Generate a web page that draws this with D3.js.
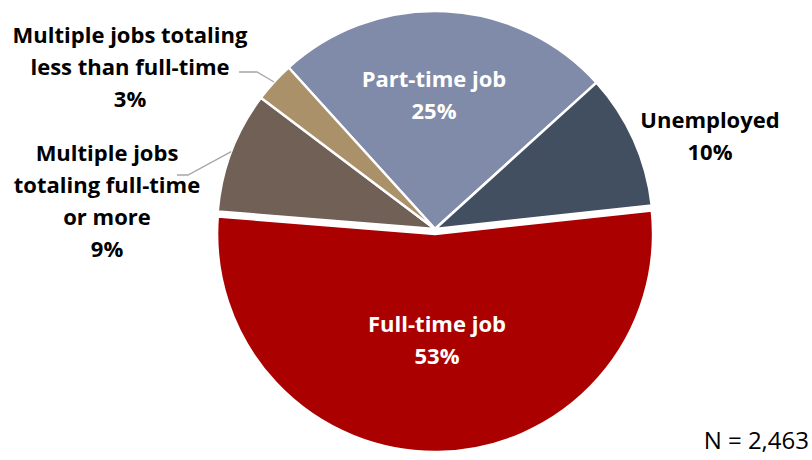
<!DOCTYPE html>
<html>
<head>
<meta charset="utf-8">
<script src="https://cdn.jsdelivr.net/npm/d3@7"></script>
<style>
  body { margin: 0; background: #fff; }
  svg { display: block; font-family: "Open Sans", Lato, sans-serif; }
</style>
</head>
<body>
<div id="chart"></div>
<script>
// slice order follows the picture, clockwise from the part-time slice
const categories = ["Part-time job", "Unemployed", "Full-time job",
    "Multiple jobs totaling full-time or more", "Multiple jobs totaling less than full-time"];
const shares = [25, 10, 53, 9, 3];
const labelLines = [
    ["Part-time job"],
    ["Unemployed"],
    ["Full-time job"],
    ["Multiple jobs", "totaling full-time", "or more"],
    ["Multiple jobs totaling", "less than full-time"]
];
const sampleNote = "N = 2,463";

const colors = ["#7f8ba8", "#424f60", "#ab0000", "#716056", "#aa9169"];
const textColors = ["#fff", "#000", "#fff", "#000", "#000"];

const width = 812, height = 460;
const cx = 435, cy = 229, radius = 218;
const explode = [0, 0, 5, 0, 0];
const lineH = 32;

// where each label block sits (x centre, first baseline)
const labelPos = [
    {x: 434, y: 87},
    {x: 710, y: 128},
    {x: 437, y: 332},
    {x: 107, y: 161},
    {x: 130, y: 43}
];
// leader line elbows for outside labels (start, elbow)
const leaders = [null, null, null,
    [[177, 175], [188, 175]],
    [[239, 72], [257, 72]]
];

const data = categories.map((c, i) => ({cat: c, value: shares[i], i: i}));

const svg = d3.select("#chart").append("svg")
    .attr("width", width)
    .attr("height", height);

const startA = -42.2 * Math.PI / 180;
const pie = d3.pie().sort(null).value(d => d.value)
    .startAngle(startA).endAngle(startA + 2 * Math.PI);

const arc = d3.arc().innerRadius(0).outerRadius(radius);
const arcs = pie(data);

const g = svg.append("g").attr("transform", `translate(${cx},${cy})`);

g.selectAll("path.slice")
    .data(arcs)
    .enter()
    .append("path")
    .attr("class", "slice")
    .attr("transform", d => {
        const mid = (d.startAngle + d.endAngle) / 2;
        const off = explode[d.data.i];
        return `translate(${off * Math.sin(mid)},${-off * Math.cos(mid)})`;
    })
    .attr("d", arc)
    .attr("fill", d => colors[d.data.i])
    .attr("stroke", "#fff")
    .attr("stroke-width", 2.5)
    .attr("stroke-linejoin", "round");

// leader lines from the slice edge to the label
arcs.forEach(d => {
    const ld = leaders[d.data.i];
    if (!ld) return;
    const mid = (d.startAngle + d.endAngle) / 2;
    const edge = [cx + radius * Math.sin(mid), cy - radius * Math.cos(mid)];
    svg.append("path")
        .attr("d", d3.line()([ld[0], ld[1], edge]))
        .attr("fill", "none")
        .attr("stroke", "#a6a6a6")
        .attr("stroke-width", 1.3);
});

// labels
arcs.forEach(d => {
    const i = d.data.i;
    const lines = labelLines[i].concat([d.data.value + "%"]);
    const t = svg.append("text")
        .attr("text-anchor", "middle")
        .style("font-size", "22px")
        .style("font-weight", "bold")
        .style("fill", textColors[i]);
    lines.forEach((ln, k) => {
        t.append("tspan")
            .attr("x", labelPos[i].x)
            .attr("y", labelPos[i].y + k * lineH)
            .text(ln);
    });
});

svg.append("text")
    .attr("x", 809)
    .attr("y", 449)
    .attr("text-anchor", "end")
    .style("font-size", "24px")
    .style("fill", "#000")
    .text(sampleNote);
</script>
</body>
</html>
